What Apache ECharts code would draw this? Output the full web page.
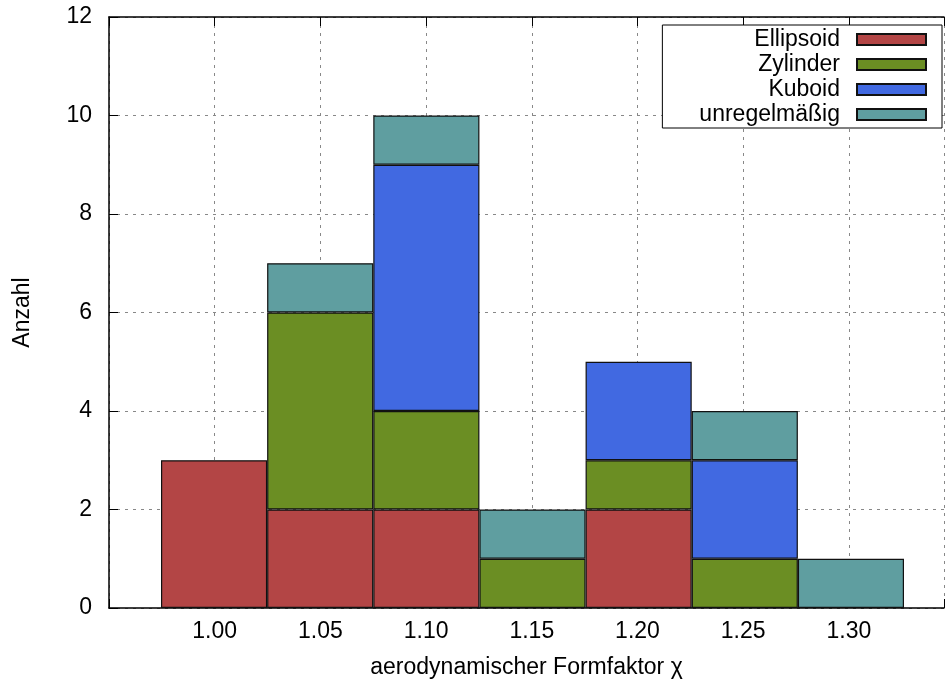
<!DOCTYPE html>
<html>
<head>
<meta charset="utf-8">
<script src="https://cdn.jsdelivr.net/npm/echarts@6/dist/echarts.min.js"></script>
<style>
  html, body { margin: 0; padding: 0; background: #fff; }
  #chart { width: 947px; height: 686px; }
</style>
</head>
<body>
<div id="chart"></div>
<script>
// form factor bins and counts per shape
let formFactor = ['1.00', '1.05', '1.10', '1.15', '1.20', '1.25', '1.30'];
let ellipsoid = [3, 2, 2, '-', 2, '-', '-'];
let zylinder = ['-', 4, 2, 1, 1, 1, '-'];
let kuboid = ['-', '-', 5, '-', 2, 2, '-'];
let unregelmaessig = ['-', 1, 1, 1, '-', 1, 1];
let shapeNames = ['Ellipsoid', 'Zylinder', 'Kuboid', 'unregelmäßig'];
let shapeColors = ['#b34545', '#6b8e23', '#4169e1', '#5f9ea0'];
let yTicks = {min: 0, max: 12, interval: 2};
let xTicks = {min: 0.95, max: 1.345, interval: 0.05};

let font = 'Liberation Sans, Arial, sans-serif';
let myChart = echarts.init(document.getElementById('chart'));

let seriesValues = [ellipsoid, zylinder, kuboid, unregelmaessig];
let series = [];
for (let i = 0; i < shapeNames.length; i++) {
  series.push({
    name: shapeNames[i],
    type: 'bar',
    stack: 'total',
    barWidth: '100%',
    xAxisIndex: 2,
    yAxisIndex: 1,
    itemStyle: {
      color: shapeColors[i],
      borderColor: '#111',
      borderWidth: 1.2
    },
    emphasis: {disabled: true},
    data: seriesValues[i]
  });
}

let dashed = {
  show: true,
  lineStyle: {color: '#888', type: [3, 5], width: 1}
};

let option = {
  backgroundColor: '#fff',
  animation: false,
  textStyle: {fontFamily: font},
  grid: [
    // frame, ticks and grid lines
    {left: 109, right: 1, top: 17, bottom: 78, containLabel: false},
    // bars: one bin per category, 1.00 to 1.30
    {left: 161, right: 43, top: 17, bottom: 78, containLabel: false}
  ],
  legend: {
    show: true,
    orient: 'vertical',
    align: 'right',
    right: 5,
    top: 25,
    padding: [3, 15, 2, 37],
    itemGap: 2,
    itemWidth: 69,
    itemHeight: 11,
    icon: 'rect',
    borderColor: '#000',
    borderWidth: 1,
    backgroundColor: '#fff',
    selectedMode: false,
    textStyle: {
      fontFamily: font,
      fontSize: 23,
      color: '#000',
      lineHeight: 23,
      padding: [0, 12, 0, 0]
    },
    data: shapeNames
  },
  xAxis: [
    {
      type: 'value',
      gridIndex: 0,
      position: 'bottom',
      min: xTicks.min,
      max: xTicks.max,
      interval: xTicks.interval,
      name: 'aerodynamischer Formfaktor χ',
      nameLocation: 'middle',
      nameGap: 48,
      nameTextStyle: {fontFamily: font, fontSize: 23, color: '#000'},
      axisLine: {show: true, onZero: false, lineStyle: {color: '#000', width: 1.5}},
      axisTick: {show: true, inside: true, length: 9, lineStyle: {color: '#000'}},
      axisLabel: {
        fontFamily: font,
        fontSize: 23,
        color: '#000',
        margin: 12,
        formatter: function (v) {
          return (v < 0.99 || v > 1.31) ? '' : v.toFixed(2);
        }
      },
      splitLine: dashed
    },
    {
      type: 'value',
      gridIndex: 0,
      position: 'top',
      min: xTicks.min,
      max: xTicks.max,
      interval: xTicks.interval,
      axisLine: {show: true, onZero: false, lineStyle: {color: '#000', width: 1.5}},
      axisTick: {show: true, inside: true, length: 9, lineStyle: {color: '#000'}},
      axisLabel: {show: false},
      splitLine: {show: false}
    },
    {
      type: 'category',
      gridIndex: 1,
      data: formFactor,
      boundaryGap: true,
      show: false
    }
  ],
  yAxis: [
    {
      type: 'value',
      gridIndex: 0,
      min: yTicks.min,
      max: yTicks.max,
      interval: yTicks.interval,
      name: 'Anzahl',
      nameLocation: 'middle',
      nameGap: 75,
      nameTextStyle: {fontFamily: font, fontSize: 23, color: '#000'},
      axisLine: {show: true, lineStyle: {color: '#000', width: 1.5}},
      axisTick: {show: true, inside: true, length: 9, lineStyle: {color: '#000'}},
      axisLabel: {fontFamily: font, fontSize: 23, color: '#000', margin: 17},
      splitLine: dashed
    },
    {
      type: 'value',
      gridIndex: 1,
      min: yTicks.min,
      max: yTicks.max,
      interval: yTicks.interval,
      show: false,
      splitLine: {show: false}
    }
  ],
  series: series
};
myChart.setOption(option);
</script>
</body>
</html>
